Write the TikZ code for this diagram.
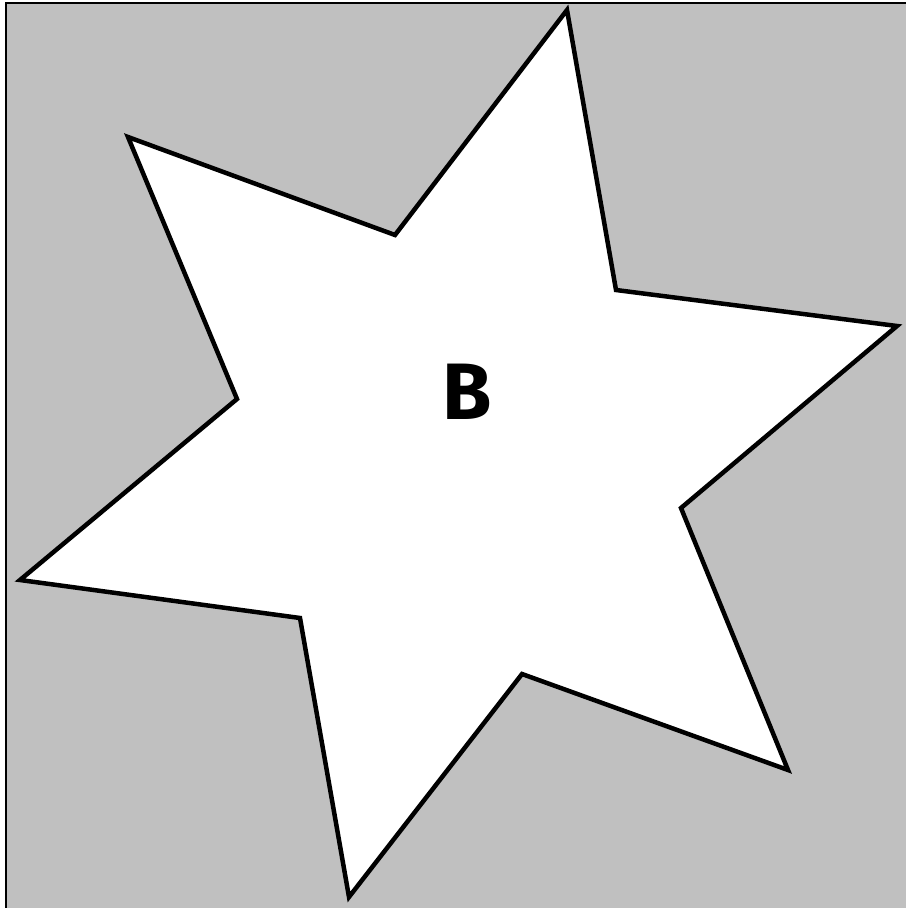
\documentclass[tikz,border=0pt]{standalone}
\usepackage{fontspec}
\newfontfamily\labelfont{Fira Sans}
\begin{document}
\begin{tikzpicture}[x=1pt,y=-1pt,
  bg/.style={fill={rgb,255:red,192;green,192;blue,192}},
  starline/.style={draw=black,fill=white,line width=4.5pt,line join=miter},
  lbl/.style={font=\labelfont\fontsize{80}{80}\selectfont\bfseries}]
\useasboundingbox (0,0) rectangle (906,908);
\fill[bg] (6,3) rectangle (906,908);
\draw[line width=2pt] (6,908) -- (6,3) -- (906,3);
\coordinate (o1) at (567,10);
\coordinate (i1) at (616,290);
\coordinate (o2) at (897,326);
\coordinate (i2) at (681,508);
\coordinate (o3) at (788,770);
\coordinate (i3) at (522,674);
\coordinate (o4) at (349,897);
\coordinate (i4) at (300,618);
\coordinate (o5) at (20,580);
\coordinate (i5) at (237,399);
\coordinate (o6) at (128,137);
\coordinate (i6) at (395,235);
\draw[starline] (o1) -- (i1) -- (o2) -- (i2) -- (o3) -- (i3) -- (o4) -- (i4) -- (o5) -- (i5) -- (o6) -- (i6) -- cycle;
\node[lbl] (b) at (467,392) {B};
\end{tikzpicture}
\end{document}
